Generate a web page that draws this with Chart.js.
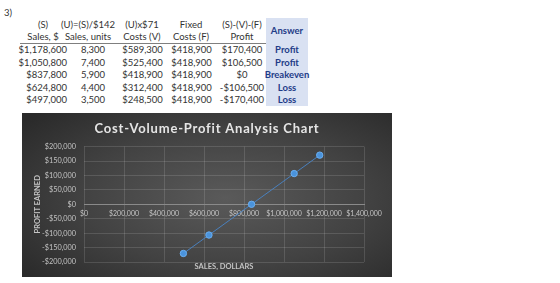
<!DOCTYPE html>
<html><head><meta charset="utf-8">
<script src="https://cdn.jsdelivr.net/npm/chart.js@4"></script>
<style>
body{margin:0;width:560px;height:283px;background:#fff;position:relative;overflow:hidden;font-family:Lato,"Open Sans",sans-serif;}
.t{position:absolute;font-size:9.5px;line-height:12px;height:12px;color:#333;white-space:nowrap;}
.c{text-align:center;width:100px;}
.r{text-align:right;width:100px;}
.ans{font-weight:bold;color:#1f3c88;}
#ansbg{position:absolute;left:266px;top:18px;width:42px;height:88px;background:#d9e1f2;}
#rule{position:absolute;left:20px;top:43px;width:246px;height:1px;background:#7f7f7f;}
#panel{position:absolute;left:22px;top:113px;width:370px;height:164px;background:radial-gradient(ellipse 70% 75% at 55% 52%, #5a5a5a 0%, #424242 55%, #2a2a2a 100%);}
#wrap{position:absolute;left:0;top:0;width:370px;height:164px;}
</style></head><body>
<div class="t" style="left:4px;top:7px;">3)</div>
<div id="ansbg"></div>
<div id="rule"></div>
<div id="table"></div>
<div id="panel"><div id="wrap"><canvas id="c"></canvas></div></div>
<script>
const salesDollars = [1178600, 1050800, 837800, 624800, 497000];
const salesUnits = [8300, 7400, 5900, 4400, 3500];
const variableCosts = [589300, 525400, 418900, 312400, 248500];
const fixedCosts = [418900, 418900, 418900, 418900, 418900];
const profits = [170400, 106500, 0, -106500, -170400];
const answers = ['Profit', 'Profit', 'Breakeven', 'Loss', 'Loss'];
const headerLine1 = ['(S)', '(U)=(S)/$142', '(U)x$71', 'Fixed', '(S)-(V)-(F)'];
const headerLine2 = ['Sales, $', 'Sales, units', 'Costs (V)', 'Costs (F)', 'Profit'];
const answerHeader = 'Answer';
const chartTitle = 'Cost-Volume-Profit Analysis Chart';
const xAxisTitle = 'SALES, DOLLARS';
const yAxisTitle = 'PROFIT EARNED';

function money(v) {
  const s = Math.abs(v).toLocaleString('en-US');
  return (v < 0 ? '-$' : '$') + s;
}
function num(v) { return v.toLocaleString('en-US'); }

const tbl = document.getElementById('table');
function add(text, cls, left, top) {
  const d = document.createElement('div');
  d.className = 't ' + cls;
  d.style.left = left + 'px';
  d.style.top = top + 'px';
  d.textContent = text;
  tbl.appendChild(d);
}
const headCenters = [43, 88, 142, 191, 242];
const rowTops = [44, 56.5, 69, 81.5, 94];
headerLine1.forEach((h, i) => add(h, 'c', headCenters[i] - 50, 19));
headerLine2.forEach((h, i) => add(h, 'c', headCenters[i] - 50, 31));
add(answerHeader, 'c ans', 287 - 50, 25);
const cols = [
  salesDollars.map(money),
  salesUnits.map(num),
  variableCosts.map(money),
  fixedCosts.map(money),
  profits.map(money)
];
rowTops.forEach((top, r) => {
  add(cols[0][r], 'r', 67 - 100, top);
  add(cols[1][r], 'c', 93 - 50, top);
  add(cols[2][r], 'c', 142.5 - 50, top);
  add(cols[3][r], 'c', 191.5 - 50, top);
  add(cols[4][r], 'c', 242 - 50, top);
  add(answers[r], 'c ans', 287 - 50, top);
});

const tickColor = '#c4c4c4';
const gridColor = 'rgba(255,255,255,0.13)';
const points = salesDollars.map((x, i) => ({x: x, y: profits[i]}));

const titleSpacing = {
  id: 'titleSpacing',
  afterUpdate(chart) {
    const tb = chart.titleBlock;
    if (tb && !tb._spaced) {
      const orig = tb.draw.bind(tb);
      tb.draw = function(area) {
        const ctx = this.ctx;
        ctx.save();
        ctx.letterSpacing = '0.8px';
        orig(area);
        ctx.restore();
      };
      tb._spaced = true;
    }
  }
};

new Chart(document.getElementById('c'), {
  type: 'scatter',
  plugins: [titleSpacing],
  data: {
    datasets: [{
      data: points,
      showLine: true,
      borderColor: '#4a80bd',
      borderWidth: 1,
      pointBackgroundColor: '#4a93dc',
      pointBorderColor: '#6aaef0',
      pointBorderWidth: 1,
      pointRadius: 3.2
    }]
  },
  options: {
    responsive: true,
    maintainAspectRatio: false,
    animation: false,
    devicePixelRatio: 1,
    layout: {padding: {left: 0, right: 0, top: 0, bottom: 4}},
    plugins: {
      legend: {display: false},
      tooltip: {enabled: false},
      title: {
        display: true,
        text: chartTitle,
        color: '#e6e6e6',
        font: {family: 'Lato', size: 13, weight: 'bold', lineHeight: 1.2},
        padding: {top: 8, bottom: 10}
      },
      subtitle: {
        display: true,
        position: 'bottom',
        fullSize: false,
        text: xAxisTitle,
        color: tickColor,
        font: {family: 'Lato', size: 7.5, weight: 'bold', lineHeight: 1.2},
        padding: {top: 0, bottom: 2}
      }
    },
    scales: {
      x: {
        type: 'linear',
        position: {y: 0},
        min: 0,
        max: 1400000,
        ticks: {
          stepSize: 200000,
          autoSkip: false,
          color: tickColor,
          padding: 5,
          maxRotation: 0,
          font: {family: 'Lato', size: 7},
          callback: v => money(v)
        },
        grid: {color: gridColor, drawTicks: false},
        border: {display: true, color: '#8a8a8a', width: 1}
      },
      y: {
        min: -200000,
        max: 200000,
        afterFit: s => { s.width = 62; },
        ticks: {
          stepSize: 50000,
          color: tickColor,
          padding: 8,
          font: {family: 'Lato', size: 7.3},
          callback: v => money(v)
        },
        grid: {color: gridColor, drawTicks: false},
        border: {display: false},
        title: {
          display: true,
          text: yAxisTitle,
          color: tickColor,
          font: {family: 'Lato', size: 7.5, weight: 'bold', lineHeight: 1.2},
          padding: {top: 11, bottom: 0}
        }
      },
      spacer: {
        type: 'linear',
        axis: 'y',
        position: 'right',
        display: true,
        afterFit: s => { s.width = 28; },
        ticks: {display: false},
        grid: {display: false},
        border: {display: false}
      }
    }
  }
});
</script>
</body></html>
